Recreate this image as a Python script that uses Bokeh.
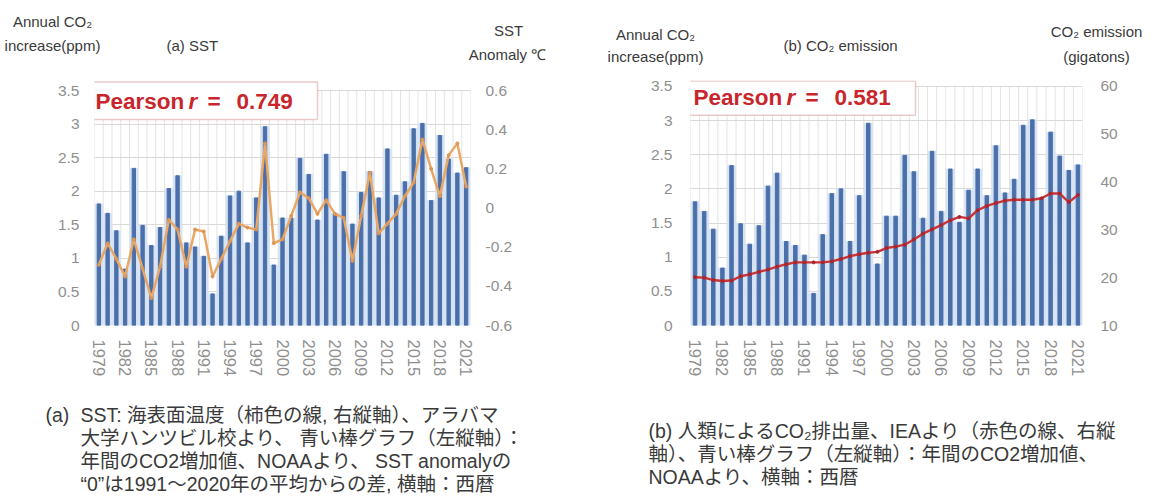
from bokeh.plotting import figure
from bokeh.models import Range1d, LinearAxis, FixedTicker, Label, BoxAnnotation
from bokeh.layouts import row, column
from bokeh.embed import file_html
from bokeh.resources import INLINE

# ---------------- data ----------------
years = list(range(1979, 2022))
co2_increase = [1.81, 1.67, 1.41, 0.84, 2.34, 1.49, 1.19, 1.46, 2.04, 2.23,
                1.23, 1.17, 1.03, 0.47, 1.33, 1.93, 2.00, 1.23, 1.90, 2.96,
                0.90, 1.60, 1.60, 2.49, 2.25, 1.57, 2.55, 1.67, 2.29, 1.51,
                1.98, 2.29, 1.90, 2.63, 1.94, 2.14, 2.93, 3.01, 1.86, 2.83,
                2.48, 2.27, 2.35]
sst_anomaly = [-0.29, -0.18, -0.26, -0.35, -0.16, -0.31, -0.46, -0.30, -0.06, -0.11,
               -0.30, -0.11, -0.12, -0.35, -0.26, -0.17, -0.08, -0.10, -0.11, 0.33,
               -0.18, -0.16, -0.04, 0.08, 0.05, -0.03, 0.04, -0.03, -0.05, -0.27,
               -0.04, 0.18, -0.13, -0.08, -0.03, 0.06, 0.13, 0.35, 0.20, 0.06,
               0.27, 0.33, 0.11]
co2_emission = [20.1, 20.0, 19.5, 19.3, 19.4, 20.3, 20.7, 21.2, 21.7, 22.3,
                22.8, 23.2, 23.2, 23.2, 23.2, 23.4, 23.9, 24.5, 24.9, 25.2,
                25.4, 26.2, 26.5, 26.9, 28.0, 29.2, 30.1, 31.0, 32.0, 32.7,
                32.4, 34.1, 35.0, 35.6, 36.1, 36.3, 36.3, 36.3, 36.6, 37.6,
                37.6, 35.8, 37.3]
year_ticks = [1979, 1982, 1985, 1988, 1991, 1994, 1997, 2000, 2003, 2006,
              2009, 2012, 2015, 2018, 2021]
left_ticks = [0, 0.5, 1, 1.5, 2, 2.5, 3, 3.5]
left_labels = ["0", "0.5", "1", "1.5", "2", "2.5", "3", "3.5"]
sst_ticks = [-0.6, -0.4, -0.2, 0, 0.2, 0.4, 0.6]
sst_labels = ["-0.6", "-0.4", "-0.2", "0", "0.2", "0.4", "0.6"]
emis_ticks = [10, 20, 30, 40, 50, 60]
emis_labels = ["10", "20", "30", "40", "50", "60"]
pearson_a = "0.749"
pearson_b = "0.581"
caption_a = ["SST: 海表面温度（柿色の線, 右縦軸）、アラバマ",
             "大学ハンツビル校より、 青い棒グラフ（左縦軸）：",
             "年間のCO2増加値、NOAAより、 SST anomalyの",
             "“0”は1991～2020年の平均からの差, 横軸：西暦"]
caption_b = ["(b) 人類によるCO₂排出量、IEAより（赤色の線、右縦",
             "軸）、青い棒グラフ（左縦軸）：年間のCO2増加値、",
             "NOAAより、横軸：西暦"]

FONT = "Liberation Sans"
CJK = "Liberation Sans, Noto Sans CJK JP"
TICK_COLOR = "#8f8f8f"
TEXT_COLOR = "#3a3a3a"
BAR_DARK = "#4a6fa9"
BAR_GLOW = "#d3e2f4"
PAGE_W = 1157
HEAD_H = 78      # header strip (page y 0..78)
CHART_BOTTOM = 392
PAGE_H = 500


def blank(width, height, y_top, y_bottom, x_left=0):
    # start > end: y grows downward, so data units equal page pixels
    p = figure(width=width, height=height, output_backend="svg", toolbar_location=None,
               x_range=Range1d(x_left, x_left + width), y_range=Range1d(y_bottom, y_top),
               x_axis_type=None, y_axis_type=None, min_border=0)
    p.outline_line_color = None
    p.xgrid.visible = False
    p.ygrid.visible = False
    return p


def text(p, x, y, s, size="15px", color=TEXT_COLOR, align="left", font=FONT, style="normal"):
    p.add_layout(Label(x=x, y=y, text=s, text_align=align, text_baseline="middle",
                       text_font=font, text_font_size=size, text_color=color,
                       text_font_style=style))


def make_panel(width, page_left, frame, right_name, right_range, right_ticks,
               right_labels, left_standoff, right_standoff):
    fl, fr, ft, fb, top35 = frame  # page coords: frame left/right/top/bottom, y of 3.5
    y_top = 3.5 * (fb - ft) / (fb - top35)
    p = figure(width=width, height=CHART_BOTTOM - HEAD_H, output_backend="svg",
               toolbar_location=None,
               x_range=Range1d(1978.5, 2021.5), y_range=Range1d(0, y_top),
               min_border_left=fl - page_left, min_border_right=page_left + width - fr,
               min_border_top=ft - HEAD_H, min_border_bottom=CHART_BOTTOM - fb)
    p.outline_line_color = None
    p.background_fill_color = "white"
    p.border_fill_color = "white"

    ax = p.yaxis[0]
    ax.ticker = FixedTicker(ticks=left_ticks)
    ax.major_label_overrides = {t: l for t, l in zip(left_ticks, left_labels)}
    ax.axis_line_color = None
    ax.major_tick_line_color = None
    ax.minor_tick_line_color = None
    ax.major_tick_out = 0
    ax.major_tick_in = 0
    ax.major_label_text_color = TICK_COLOR
    ax.major_label_text_font = FONT
    ax.major_label_text_font_size = "15.5px"
    ax.major_label_standoff = left_standoff

    r0, r1 = right_range
    p.extra_y_ranges = {right_name: Range1d(r0, r0 + (r1 - r0) * y_top / 3.5)}
    ax2 = LinearAxis(y_range_name=right_name, ticker=FixedTicker(ticks=right_ticks))
    ax2.major_label_overrides = {t: l for t, l in zip(right_ticks, right_labels)}
    ax2.axis_line_color = None
    ax2.major_tick_line_color = None
    ax2.minor_tick_line_color = None
    ax2.major_tick_out = 0
    ax2.major_tick_in = 0
    ax2.major_label_text_color = TICK_COLOR
    ax2.major_label_text_font = FONT
    ax2.major_label_text_font_size = "15.5px"
    ax2.major_label_standoff = right_standoff
    p.add_layout(ax2, "right")

    xa = p.xaxis[0]
    xa.ticker = FixedTicker(ticks=year_ticks)
    xa.major_label_orientation = "vertical"
    xa.axis_line_color = None
    xa.major_tick_line_color = None
    xa.minor_tick_line_color = None
    xa.major_tick_out = 0
    xa.major_tick_in = 0
    xa.major_label_text_color = TICK_COLOR
    xa.major_label_text_font = FONT
    xa.major_label_text_font_size = "16.5px"
    xa.major_label_standoff = 14

    p.ygrid.grid_line_color = "#d9d9d9"
    p.xgrid.visible = False
    bounds = [y - 0.5 for y in years] + [years[-1] + 0.5]
    p.segment(x0=bounds, y0=[left_ticks[0]] * len(bounds), x1=bounds,
              y1=[left_ticks[-1]] * len(bounds), line_color="#e3e3e3", line_width=1,
              level="underlay")

    p.vbar(x=years, top=co2_increase, width=0.84, color=BAR_GLOW)
    p.vbar(x=years, top=co2_increase, width=0.38, color=BAR_DARK)

    def fx(px):
        return 1978.5 + (px - fl) / (fr - fl) * 43

    def fy(py):
        return (fb - py) / (fb - top35) * 3.5

    return p, fx, fy


def pearson(p, fx, fy, box, px, py, r_value):
    l, t, r, b = box
    p.add_layout(BoxAnnotation(left=fx(l), right=fx(r), top=fy(t), bottom=fy(b),
                               fill_color="white", fill_alpha=1.0,
                               line_color="#bd5450", line_width=1.5))
    red = "#c8262c"
    for dx, s, st in [(0, "Pearson", "bold"), (93, "r", "bold italic"),
                      (112, "=", "bold"), (141, r_value, "bold")]:
        p.add_layout(Label(x=fx(px + dx), y=fy(py), text=s, text_align="left",
                           text_baseline="middle", text_font=FONT,
                           text_font_size="22.5px", text_color=red, text_font_style=st))


# ---------------- header ----------------
head = blank(PAGE_W, HEAD_H, 0, HEAD_H)
text(head, 52, 21, "Annual CO₂", align="center")
text(head, 52, 45, "increase(ppm)", align="center")
text(head, 166, 45, "(a) SST")
text(head, 508, 30, "SST", align="center")
text(head, 507, 54, "Anomaly ℃", align="center")
text(head, 655, 34, "Annual CO₂", align="center")
text(head, 655, 56, "increase(ppm)", align="center")
text(head, 783, 45, "(b) CO₂ emission")
text(head, 1096, 31, "CO₂ emission", align="center")
text(head, 1096, 56, "(gigatons)", align="center")

# ---------------- panel (a) ----------------
pa, ax_, ay_ = make_panel(579, 0, (94, 470, 80, 325, 90), "sst", (-0.6, 0.6),
                          sst_ticks, sst_labels, 15, 15)
pa.line(years, sst_anomaly, y_range_name="sst", color="#e9a766", line_width=2.5)
pa.scatter(years, sst_anomaly, y_range_name="sst", size=3, color="#dc9656")
pearson(pa, ax_, ay_, (86, 81.5, 317, 119), 95, 100.5, pearson_a)

# ---------------- panel (b) ----------------
pb, bx_, by_ = make_panel(578, 579, (690, 1082, 78, 328, 84), "emis", (10, 60),
                          emis_ticks, emis_labels, 18, 18)
pb.line(years, co2_emission, y_range_name="emis", color="#c8343a", line_width=2.4)
pb.scatter(years, co2_emission, y_range_name="emis", size=3, color="#a8262c")
pearson(pb, bx_, by_, (682, 78.5, 915, 113.5), 693, 95.5, pearson_b)

# ---------------- captions ----------------
cap = blank(PAGE_W, PAGE_H - CHART_BOTTOM, CHART_BOTTOM, PAGE_H)
text(cap, 45, 414, "(a)", size="19.5px", font=CJK)
for i, line in enumerate(caption_a):
    text(cap, 80, 414 + 23 * i, line, size="19.5px", font=CJK)
for i, line in enumerate(caption_b):
    text(cap, 648, 430 + 23 * i, line, size="19.5px", font=CJK)

layout = column(head, row(pa, pb), cap)
open("out.html", "w").write(file_html(layout, INLINE))
